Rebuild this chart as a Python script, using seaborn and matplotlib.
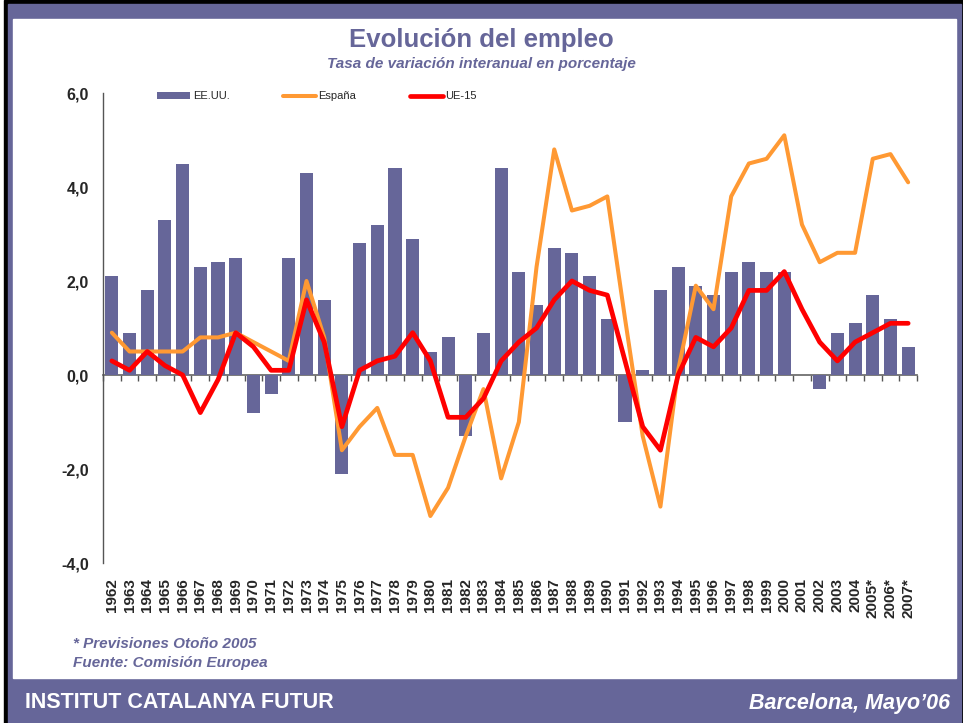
import numpy as np
import matplotlib
matplotlib.use("Agg")
import matplotlib.pyplot as plt
from matplotlib.patches import Rectangle
import seaborn as sns

# data
years = [str(y) for y in range(1962, 2005)] + ["2005*", "2006*", "2007*"]
eeuu = [2.1, 0.9, 1.8, 3.3, 4.5, 2.3, 2.4, 2.5, -0.8, -0.4,
        2.5, 4.3, 1.6, -2.1, 2.8, 3.2, 4.4, 2.9, 0.5, 0.8,
        -1.3, 0.9, 4.4, 2.2, 1.5, 2.7, 2.6, 2.1, 1.2, -1.0,
        0.1, 1.8, 2.3, 1.9, 1.7, 2.2, 2.4, 2.2, 2.2, 0.0,
        -0.3, 0.9, 1.1, 1.7, 1.2, 0.6]
espana = [0.9, 0.5, 0.5, 0.5, 0.5, 0.8, 0.8, 0.9, 0.7, 0.5,
          0.3, 2.0, 0.8, -1.6, -1.1, -0.7, -1.7, -1.7, -3.0, -2.4,
          -1.3, -0.3, -2.2, -1.0, 2.3, 4.8, 3.5, 3.6, 3.8, 1.2,
          -1.3, -2.8, 0.1, 1.9, 1.4, 3.8, 4.5, 4.6, 5.1, 3.2,
          2.4, 2.6, 2.6, 4.6, 4.7, 4.1]
ue15 = [0.3, 0.1, 0.5, 0.2, 0.0, -0.8, -0.1, 0.9, 0.6, 0.1,
        0.1, 1.6, 0.7, -1.1, 0.1, 0.3, 0.4, 0.9, 0.3, -0.9,
        -0.9, -0.5, 0.3, 0.7, 1.0, 1.6, 2.0, 1.8, 1.7, 0.3,
        -1.1, -1.6, 0.0, 0.8, 0.6, 1.0, 1.8, 1.8, 2.2, 1.4,
        0.7, 0.3, 0.7, 0.9, 1.1, 1.1]
yticks = [-4, -2, 0, 2, 4, 6]

W, H = 963, 723
PURPLE = "#666699"
ORANGE = "#FF9933"
RED = "#FF0000"

sns.set_style("white")
plt.rcParams["font.family"] = ["Liberation Sans", "DejaVu Sans"]

fig = plt.figure(figsize=(W / 100, H / 100), dpi=100, facecolor="white")


def px_rect(x0, y0, x1, y1, color):
    fig.patches.append(Rectangle((x0 / W, 1 - y1 / H), (x1 - x0) / W, (y1 - y0) / H,
                                 transform=fig.transFigure, color=color, zorder=-10))


# frame: black outline, purple band, white panel
px_rect(4, 0, 963, 723, "black")
px_rect(8, 4, 961, 723, PURPLE)
px_rect(13, 19, 956, 678, "white")

ax = fig.add_axes([103 / W, 1 - 563 / H, (917 - 103) / W, (563 - 93) / H])
ax.set_facecolor("none")

n = len(years)
x = np.arange(n)
sns.barplot(x=years, y=eeuu, color=PURPLE, saturation=1, width=0.74,
            errorbar=None, label="EE.UU.", linewidth=0, ax=ax, zorder=2)
sns.lineplot(x=x, y=espana, color=ORANGE, linewidth=2.9, label="España",
             ax=ax, zorder=3)
sns.lineplot(x=x, y=ue15, color=RED, linewidth=3.4, label="UE-15",
             ax=ax, zorder=4)

ax.set_xlim(-0.5, n - 0.5)
ax.set_ylim(-4, 6)
ax.set_xlabel("")
ax.set_ylabel("")

# y axis
ax.set_yticks(yticks)
ax.set_yticklabels([f"{v:.1f}".replace(".", ",") for v in yticks],
                   fontsize=11.5, fontweight="bold")
ax.tick_params(axis="y", direction="out", length=4, width=1, color="#555555", pad=6)
for side in ["top", "right", "bottom"]:
    ax.spines[side].set_visible(False)
ax.spines["left"].set_color("#555555")
ax.spines["left"].set_linewidth(1)

# x tick labels at the bottom, zero line with category ticks
ax.set_xticks(x)
ax.set_xticklabels(years, rotation=90, fontsize=11, fontweight="bold")
ax.tick_params(axis="x", length=0, pad=11)

zero = ax.secondary_xaxis(0.4)
zero.set_xticks(np.arange(n + 1) - 0.5)
zero.tick_params(axis="x", direction="out", length=4, width=1, color="#555555",
                 labelbottom=False, labeltop=False)
zero.spines["bottom"].set_color("#707070")
zero.spines["bottom"].set_linewidth(1.3)

# legend
handles, labels = ax.get_legend_handles_labels()
order = [labels.index(l) for l in ["EE.UU.", "España", "UE-15"]]
leg = ax.legend([handles[i] for i in order], [labels[i] for i in order],
                loc="center left", bbox_to_anchor=(0.061, 0.993), ncol=3,
                frameon=False, fontsize=8, handlelength=3.0, handleheight=0.6,
                handletextpad=0.2, columnspacing=4.8, borderaxespad=0)

# titles and notes
fig.text(481 / W, 1 - 40 / H, "Evolución del empleo", ha="center", va="center",
         fontsize=18.5, fontweight="bold", color=PURPLE)
fig.text(481 / W, 1 - 64 / H, "Tasa de variación interanual en porcentaje",
         ha="center", va="center", fontsize=11, fontweight="bold",
         fontstyle="italic", color=PURPLE)
fig.text(73 / W, 1 - 644 / H, "* Previsiones Otoño 2005", ha="left", va="center",
         fontsize=11, fontweight="bold", fontstyle="italic", color=PURPLE)
fig.text(73 / W, 1 - 663 / H, "Fuente: Comisión Europea", ha="left", va="center",
         fontsize=11, fontweight="bold", fontstyle="italic", color=PURPLE)
fig.text(25 / W, 1 - 703 / H, "INSTITUT CATALANYA FUTUR", ha="left", va="center",
         fontsize=15.5, fontweight="bold", color="white")
fig.text(950 / W, 1 - 703 / H, "Barcelona, Mayo\u201906", ha="right", va="center",
         fontsize=15.5, fontweight="bold", fontstyle="italic", color="white")

fig.savefig("out.png", dpi=100, facecolor=fig.get_facecolor())
